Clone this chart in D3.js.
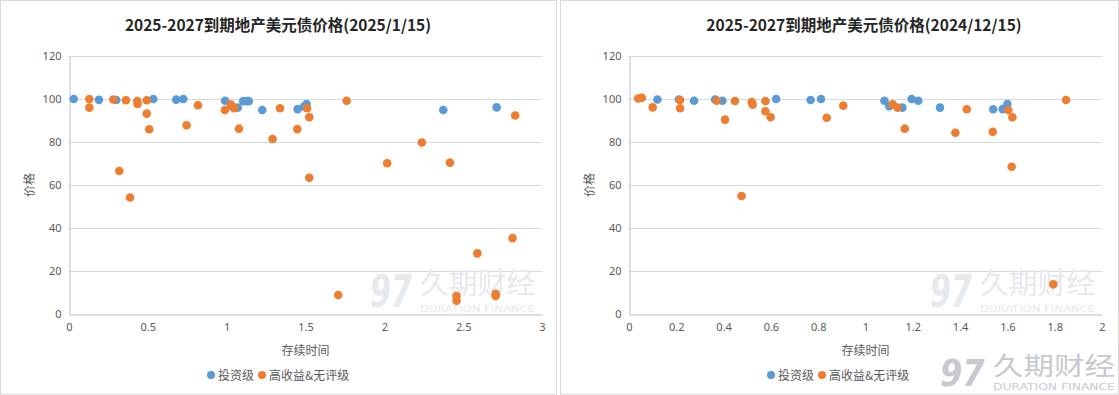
<!DOCTYPE html>
<html>
<head>
<meta charset="utf-8">
<script src="https://cdn.jsdelivr.net/npm/d3@7"></script>
<style>
  body { margin: 0; background: #fff; }
  svg { display: block; }
</style>
</head>
<body>
<div id="charts"></div>
<script>
// --- data --- //

// left panel: 2025/1/15
const igJan = [
  [0.03, 100], [0.19, 99.6], [0.30, 99.5], [0.535, 100], [0.68, 99.7], [0.725, 100],
  [0.99, 99.2], [1.07, 96], [1.105, 99], [1.127, 99], [1.14, 99], [1.226, 94.9],
  [1.45, 95.3], [1.49, 96.5], [1.507, 97.7], [2.374, 94.9], [2.712, 96.1]
];
const hyJan = [
  [0.129, 100], [0.129, 96], [0.281, 99.8], [0.361, 99.4], [0.433, 99.1], [0.435, 97.7],
  [0.493, 99.4], [0.493, 93.2], [0.509, 85.9], [0.319, 66.5], [0.387, 54.2], [0.746, 87.8],
  [0.818, 97.1], [0.989, 94.9], [1.027, 97.4], [1.038, 96.4], [1.048, 95.7], [1.078, 86.2],
  [1.291, 81.4], [1.338, 95.7], [1.448, 86], [1.51, 95.7], [1.524, 91.5], [1.524, 63.4],
  [1.761, 99.2], [2.018, 70.1], [2.238, 79.8], [2.416, 70.4], [2.83, 92.3], [1.708, 8.8],
  [2.458, 8.4], [2.458, 6.2], [2.59, 28.2], [2.813, 35.3], [2.706, 9.4], [2.706, 8.4]
];

// right panel: 2024/12/15
const igDec = [
  [0.12, 99.8], [0.211, 99.8], [0.275, 99.2], [0.364, 99.8], [0.395, 99.2], [0.622, 100],
  [0.768, 99.5], [0.812, 100], [1.08, 99.2], [1.10, 96.7], [1.156, 96], [1.195, 100],
  [1.223, 99.2], [1.315, 96], [1.54, 95.2], [1.58, 95.3], [1.60, 97.7]
];
const hyDec = [
  [0.039, 100.2], [0.054, 100.6], [0.100, 96.1], [0.216, 99.5], [0.216, 95.7], [0.371, 99.2],
  [0.406, 90.4], [0.448, 99.1], [0.476, 54.9], [0.519, 98.6], [0.523, 97.4], [0.577, 99.1],
  [0.577, 94.3], [0.599, 91.5], [0.836, 91.3], [0.906, 96.9], [1.115, 97.5], [1.136, 96],
  [1.166, 86.2], [1.38, 84.3], [1.428, 95.2], [1.538, 84.8], [1.604, 94.9], [1.621, 91.5],
  [1.618, 68.5], [1.848, 99.5], [1.794, 13.8]
];

const xTicksJan = [0, 0.5, 1, 1.5, 2, 2.5, 3];
const xTicksDec = [0, 0.2, 0.4, 0.6, 0.8, 1, 1.2, 1.4, 1.6, 1.8, 2];
const yTicks = [0, 20, 40, 60, 80, 100, 120];

const titleJan = "2025-2027到期地产美元债价格(2025/1/15)";
const titleDec = "2025-2027到期地产美元债价格(2024/12/15)";
const seriesNames = ["投资级", "高收益&无评级"];

//--- Graph Formatting ---//

const W = 1119;
const H = 395;
const igColor = "#5B9BD5";
const hyColor = "#ED7D31";
const gridColor = "#d9d9d9";
const textColor = "#595959";
const tickFont = "'Noto Sans', 'Noto Sans CJK SC', sans-serif";
const cjkFont = "'Noto Sans CJK SC', sans-serif";

const svg = d3.select("#charts").append("svg").attr("width", W).attr("height", H);

// watermark (久期财经 logo), local box ~165 x 48
function watermark(g, tx, ty, sx, sy, fill) {
  const w = g.append("g")
    .attr("transform", `translate(${tx},${ty}) scale(${sx},${sy})`)
    .attr("fill", fill);
  w.append("text")
    .attr("x", 0).attr("y", 42)
    .attr("font-family", "'DejaVu Sans', sans-serif")
    .attr("font-weight", "bold")
    .attr("font-style", "italic")
    .attr("font-size", 44)
    .attr("textLength", 42)
    .attr("lengthAdjust", "spacingAndGlyphs")
    .text("97");
  w.append("text")
    .attr("x", 50).attr("y", 29)
    .attr("font-family", cjkFont)
    .attr("font-size", 29)
    .attr("textLength", 115)
    .attr("lengthAdjust", "spacingAndGlyphs")
    .text("久期财经");
  w.append("text")
    .attr("x", 50).attr("y", 47)
    .attr("font-family", "'DejaVu Sans', sans-serif")
    .attr("font-size", 9.5)
    .attr("textLength", 115)
    .attr("lengthAdjust", "spacingAndGlyphs")
    .text("DURATION FINANCE");
}

function drawPanel(px, pw, title, titleX, ig, hy, xMax, xTicks, legendX) {
  const g = svg.append("g");

  // panel frame
  g.append("rect")
    .attr("x", px + 0.5).attr("y", 0.5)
    .attr("width", pw - 1).attr("height", H - 1.5)
    .attr("fill", "#fff")
    .attr("stroke", "#d9d9d9");

  const x = d3.scaleLinear().domain([0, xMax]).range([px + 69, px + 542]);
  const y = d3.scaleLinear().domain([0, 120]).range([314, 56]);

  // title
  g.append("text")
    .attr("x", titleX).attr("y", 31)
    .attr("text-anchor", "middle")
    .attr("font-family", cjkFont)
    .attr("font-weight", "bold")
    .attr("font-size", 15.5)
    .attr("fill", "#262626")
    .text(title);

  // gridlines
  g.append("g")
    .selectAll("line")
    .data(yTicks.filter((d) => d > 0))
    .join("line")
    .attr("x1", x(0)).attr("x2", x(xMax))
    .attr("y1", (d) => Math.round(y(d)) + 0.5)
    .attr("y2", (d) => Math.round(y(d)) + 0.5)
    .attr("stroke", gridColor);

  // watermark inside plot
  watermark(g, px + 370, 265, 1, 1, "#e6e9ed");

  // y-axis
  const yAxis = g.append("g")
    .attr("transform", `translate(${x(0) + 0.5},0)`)
    .call(d3.axisLeft(y).tickValues(yTicks).tickSize(0).tickPadding(8));
  yAxis.select(".domain").attr("stroke", "#bfbfbf");
  yAxis.selectAll("text")
    .attr("font-family", tickFont)
    .attr("font-size", 11)
    .attr("fill", textColor);

  // x-axis
  const xAxis = g.append("g")
    .attr("transform", `translate(0,${y(0) + 0.5})`)
    .call(d3.axisBottom(x).tickValues(xTicks).tickSize(0).tickPadding(9).tickFormat(d3.format("~g")));
  xAxis.select(".domain").attr("stroke", "#bfbfbf");
  xAxis.selectAll("text")
    .attr("font-family", tickFont)
    .attr("font-size", 11)
    .attr("fill", textColor);

  // axis titles
  g.append("text")
    .attr("text-anchor", "middle")
    .attr("transform", `translate(${px + 34},185) rotate(-90)`)
    .attr("font-family", cjkFont)
    .attr("font-size", 12)
    .attr("fill", textColor)
    .text("价格");

  g.append("text")
    .attr("x", (x(0) + x(xMax)) / 2).attr("y", 355)
    .attr("text-anchor", "middle")
    .attr("font-family", cjkFont)
    .attr("font-size", 12)
    .attr("fill", textColor)
    .text("存续时间");

  // points: investment grade first, high yield on top
  g.append("g")
    .selectAll("circle")
    .data(ig)
    .join("circle")
    .attr("cx", (d) => x(d[0]))
    .attr("cy", (d) => y(d[1]))
    .attr("r", 4.3)
    .attr("fill", igColor);

  g.append("g")
    .selectAll("circle")
    .data(hy)
    .join("circle")
    .attr("cx", (d) => x(d[0]))
    .attr("cy", (d) => y(d[1]))
    .attr("r", 4.3)
    .attr("fill", hyColor);

  // legend
  const lg = g.append("g").attr("transform", `translate(${legendX},375)`);
  const items = [
    { name: seriesNames[0], color: igColor, dx: 0 },
    { name: seriesNames[1], color: hyColor, dx: 51 }
  ];
  const li = lg.selectAll("g").data(items).join("g").attr("transform", (d) => `translate(${d.dx},0)`);
  li.append("circle").attr("cx", 0).attr("cy", 0).attr("r", 4).attr("fill", (d) => d.color);
  li.append("text")
    .attr("x", 7).attr("y", 4.5)
    .attr("font-family", cjkFont)
    .attr("font-size", 12)
    .attr("fill", textColor)
    .text((d) => d.name);
}

drawPanel(0, 557, titleJan, 278, igJan, hyJan, 3, xTicksJan, 211);
drawPanel(560, 559, titleDec, 864, igDec, hyDec, 2, xTicksDec, 771);

// corner watermark
watermark(svg, 940, 350, 1.06, 0.85, "#c6cacf");
</script>
</body>
</html>
